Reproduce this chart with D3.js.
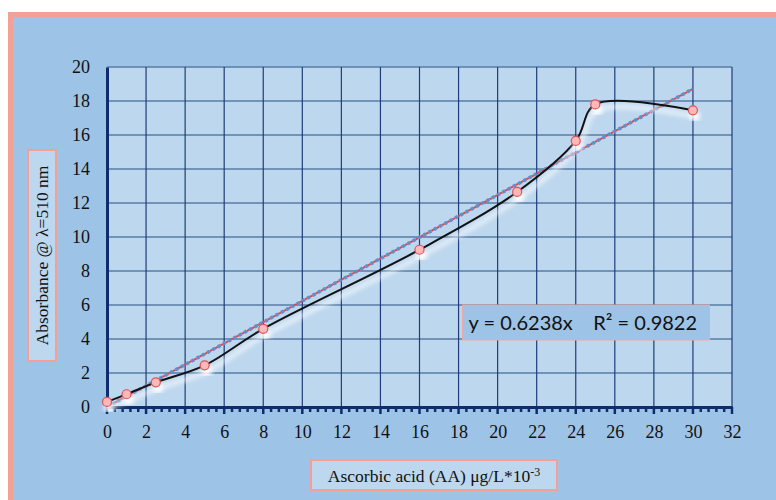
<!DOCTYPE html>
<html>
<head>
<meta charset="utf-8">
<script src="https://cdn.jsdelivr.net/npm/d3@7"></script>
<style>
  body { margin: 0; background: #fff; }
  svg { display: block; }
</style>
</head>
<body>
<svg id="chart" width="776" height="500"></svg>
<script>
// data
const concentrations = [0, 1, 2.5, 5, 8, 16, 21, 24, 25, 30];
const absorbances = [0.3, 0.75, 1.45, 2.45, 4.6, 9.25, 12.65, 15.65, 17.8, 17.45];
const slope = 0.6238;
const rSquared = 0.9822;
const xTicks = d3.range(0, 33, 2);
const yTicks = d3.range(0, 21, 2);

const svg = d3.select("#chart");
const W = 776, H = 500;
const margin = { left: 107, right: 44, top: 67, bottom: 93 };
const iw = W - margin.left - margin.right;
const ih = H - margin.top - margin.bottom;

const x = d3.scaleLinear().domain([0, 32]).range([0, iw]);
const y = d3.scaleLinear().domain([0, 20]).range([ih, 0]);

// glow filter
const defs = svg.append("defs");
const glow = defs.append("filter").attr("id", "glow")
  .attr("x", "-50%").attr("y", "-50%").attr("width", "200%").attr("height", "200%");
glow.append("feGaussianBlur").attr("in", "SourceAlpha").attr("stdDeviation", 2.5).attr("result", "b");
glow.append("feOffset").attr("in", "b").attr("dx", 2).attr("dy", 6).attr("result", "o");
glow.append("feFlood").attr("flood-color", "#fff").attr("flood-opacity", 0.95);
glow.append("feComposite").attr("in2", "o").attr("operator", "in");

// outer frame
svg.append("rect").attr("x", 10.5).attr("y", 14.5).attr("width", W).attr("height", H)
  .attr("fill", "#9dc3e6").attr("stroke", "#f4a096").attr("stroke-width", 5);

const g = svg.append("g").attr("transform", `translate(${margin.left},${margin.top})`);

g.append("rect").attr("width", iw).attr("height", ih).attr("fill", "#bdd7ee");

// grid
g.selectAll(".hg").data(yTicks.slice(1)).join("line")
  .attr("x1", 0).attr("x2", iw)
  .attr("y1", d => y(d)).attr("y2", d => y(d))
  .attr("stroke", "#5a7ca6").attr("stroke-width", 1.6);
g.selectAll(".vg").data(xTicks.slice(1)).join("line")
  .attr("y1", 0).attr("y2", ih)
  .attr("x1", d => x(d)).attr("x2", d => x(d))
  .attr("stroke", "#1f3d7a").attr("stroke-width", 1.2);

// axes
const navy = "#0e2c6e";
const xAxis = g.append("g").attr("transform", `translate(0,${ih})`)
  .call(d3.axisBottom(x).tickValues(xTicks).tickSize(0).tickPadding(18));
xAxis.select(".domain").attr("stroke", navy).attr("stroke-width", 3);
// minor ticks
g.append("g").selectAll("line").data(d3.range(0, 32.01, 0.4)).join("line")
  .attr("x1", d => x(d)).attr("x2", d => x(d))
  .attr("y1", ih).attr("y2", d => ih + (Math.abs(d / 2 - Math.round(d / 2)) < 0.01 ? 7 : 5))
  .attr("stroke", navy).attr("stroke-width", 2.5);

const yAxis = g.append("g")
  .call(d3.axisLeft(y).tickValues(yTicks).tickSize(0).tickPadding(17));
yAxis.select(".domain").attr("stroke", navy).attr("stroke-width", 3);

svg.selectAll(".tick text")
  .attr("font-family", "Liberation Serif, serif").attr("font-size", 18).attr("fill", "#111");

// trend line
const trend = [[0, 0], [30, slope * 30]];
const tline = d3.line().x(d => x(d[0])).y(d => y(d[1]));
g.append("path").attr("d", tline(trend)).attr("fill", "none")
  .attr("stroke", "#5b8fd0").attr("stroke-width", 3.5).attr("stroke-dasharray", "3,3");
g.append("path").attr("d", tline(trend)).attr("fill", "none")
  .attr("stroke", "#d0505a").attr("stroke-width", 2).attr("stroke-dasharray", "3,3")
  .attr("stroke-dashoffset", 3);

// data curve
const pts = concentrations.map((c, i) => [c, absorbances[i]]);
const curve = d3.line().x(d => x(d[0])).y(d => y(d[1])).curve(d3.curveCatmullRom.alpha(0.5));
g.append("path").attr("d", curve(pts)).attr("fill", "none")
  .attr("stroke", "#000").attr("stroke-width", 3).attr("filter", "url(#glow)");
g.append("path").attr("d", curve(pts)).attr("fill", "none")
  .attr("stroke", "#111").attr("stroke-width", 2);

// markers
g.selectAll(".shadow").data(pts).join("circle")
  .attr("cx", d => x(d[0])).attr("cy", d => y(d[1])).attr("r", 5)
  .attr("fill", "#000").attr("filter", "url(#glow)");
g.selectAll(".pt").data(pts).join("circle")
  .attr("cx", d => x(d[0])).attr("cy", d => y(d[1])).attr("r", 4.5)
  .attr("fill", "#ffb8b8").attr("stroke", "#e0525a").attr("stroke-width", 1.2);

// equation box
g.append("rect").attr("x", x(18.2)).attr("y", y(6)).attr("width", 247).attr("height", 35)
  .attr("fill", "#9dc3e6").attr("stroke", "#f0a8a8").attr("stroke-width", 1);
g.append("text").attr("x", x(18.2) + 6).attr("y", y(6) + 25)
  .attr("font-family", "Lato, Carlito, sans-serif").attr("font-size", 20).attr("fill", "#111")
  .attr("xml:space", "preserve")
  .text(`y = ${slope}x    R² = ${rSquared}`);

// y title box
const yBox = svg.append("g");
yBox.append("rect").attr("x", 28).attr("y", 150).attr("width", 28).attr("height", 211)
  .attr("fill", "#bdd7ee").attr("stroke", "#f4a096").attr("stroke-width", 2);
yBox.append("text").attr("transform", "translate(48,255.5) rotate(-90)")
  .attr("text-anchor", "middle").attr("font-family", "Liberation Serif, serif")
  .attr("font-size", 17.5).attr("fill", "#111")
  .text("Absorbance @ λ=510 nm");

// x title box
svg.append("rect").attr("x", 311).attr("y", 460).attr("width", 246).attr("height", 30)
  .attr("fill", "#bdd7ee").attr("stroke", "#f4a096").attr("stroke-width", 2);
const xt = svg.append("text").attr("x", 434).attr("y", 482).attr("text-anchor", "middle")
  .attr("font-family", "Liberation Serif, serif").attr("font-size", 17.5).attr("fill", "#111");
xt.append("tspan").text("Ascorbic acid (AA) μg/L*10");
xt.append("tspan").attr("dy", -6).attr("font-size", 12).text("-3");
</script>
</body>
</html>
